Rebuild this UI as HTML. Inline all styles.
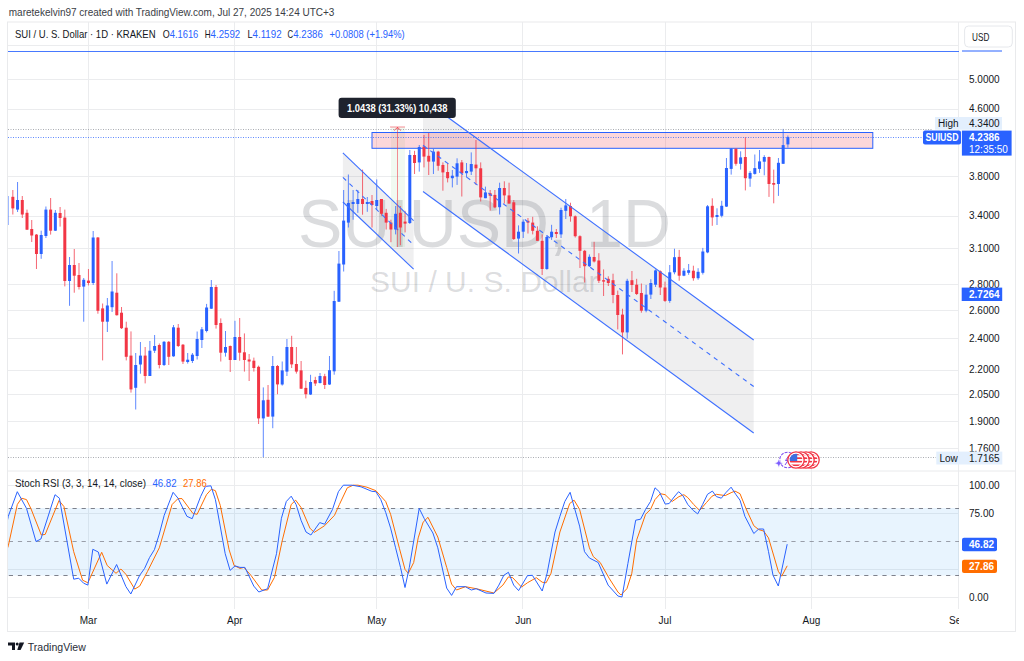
<!DOCTYPE html><html><head><meta charset="utf-8"><style>
html,body{margin:0;padding:0;background:#fff;width:1024px;height:661px;overflow:hidden}
svg{position:absolute;left:0;top:0}
text{font-family:"Liberation Sans",sans-serif}
</style></head><body>
<svg width="1024" height="661" viewBox="0 0 1024 661">
<rect x="0" y="0" width="1024" height="661" fill="#fff"/>
<text x="8.8" y="15.5" font-size="10.4" fill="#3a3d45" textLength="325.6" lengthAdjust="spacingAndGlyphs">maretekelvin97 created with TradingView.com, Jul 27, 2025 14:24 UTC+3</text>
<rect x="7.5" y="22" width="1008" height="609.5" fill="none" stroke="#e9eaec" stroke-width="1"/>
<defs><clipPath id="main"><rect x="8" y="22.5" width="951" height="448"/></clipPath><clipPath id="stoch"><rect x="8" y="471.5" width="951" height="137.5"/></clipPath></defs>
<line x1="8" x2="959" y1="45.5" y2="45.5" stroke="#ebecee" stroke-width="1"/>
<line x1="8" x2="959" y1="79.5" y2="79.5" stroke="#ebecee" stroke-width="1"/>
<line x1="8" x2="959" y1="109.5" y2="109.5" stroke="#ebecee" stroke-width="1"/>
<line x1="8" x2="959" y1="176.5" y2="176.5" stroke="#ebecee" stroke-width="1"/>
<line x1="8" x2="959" y1="216.5" y2="216.5" stroke="#ebecee" stroke-width="1"/>
<line x1="8" x2="959" y1="248.5" y2="248.5" stroke="#ebecee" stroke-width="1"/>
<line x1="8" x2="959" y1="284.5" y2="284.5" stroke="#ebecee" stroke-width="1"/>
<line x1="8" x2="959" y1="310.5" y2="310.5" stroke="#ebecee" stroke-width="1"/>
<line x1="8" x2="959" y1="338.5" y2="338.5" stroke="#ebecee" stroke-width="1"/>
<line x1="8" x2="959" y1="370.5" y2="370.5" stroke="#ebecee" stroke-width="1"/>
<line x1="8" x2="959" y1="394.5" y2="394.5" stroke="#ebecee" stroke-width="1"/>
<line x1="8" x2="959" y1="421.5" y2="421.5" stroke="#ebecee" stroke-width="1"/>
<line x1="8" x2="959" y1="448.5" y2="448.5" stroke="#ebecee" stroke-width="1"/>
<line x1="8" x2="959" y1="485.5" y2="485.5" stroke="#ebecee" stroke-width="1"/>
<line x1="8" x2="959" y1="513.5" y2="513.5" stroke="#ebecee" stroke-width="1"/>
<line x1="8" x2="959" y1="569.5" y2="569.5" stroke="#ebecee" stroke-width="1"/>
<line x1="8" x2="959" y1="597.5" y2="597.5" stroke="#ebecee" stroke-width="1"/>
<line x1="88.5" x2="88.5" y1="22" y2="609" stroke="#ebecee" stroke-width="1"/>
<line x1="234.5" x2="234.5" y1="22" y2="609" stroke="#ebecee" stroke-width="1"/>
<line x1="376.5" x2="376.5" y1="22" y2="609" stroke="#ebecee" stroke-width="1"/>
<line x1="522.5" x2="522.5" y1="22" y2="609" stroke="#ebecee" stroke-width="1"/>
<line x1="665.5" x2="665.5" y1="22" y2="609" stroke="#ebecee" stroke-width="1"/>
<line x1="811.5" x2="811.5" y1="22" y2="609" stroke="#ebecee" stroke-width="1"/>
<line x1="8" x2="1015.5" y1="471" y2="471" stroke="#e9eaec" stroke-width="1"/>
<line x1="958.5" x2="958.5" y1="22" y2="609" stroke="#ebecee" stroke-width="1"/>
<g clip-path="url(#main)">
<text x="484.5" y="247" font-size="68" fill="rgba(42,46,57,0.17)" text-anchor="middle" textLength="373" lengthAdjust="spacingAndGlyphs">SUIUSD, 1D</text>
<text x="484.3" y="291.5" font-size="30" fill="rgba(42,46,57,0.17)" text-anchor="middle" textLength="228.6" lengthAdjust="spacingAndGlyphs">SUI / U. S. Dollar</text>
<polygon points="342.9,152.9 413.6,220.6 413.6,269.2 342.9,202" fill="rgba(120,123,134,0.12)"/>
<polygon points="423,99.2 753.7,340 753.7,433 423,191.5" fill="rgba(120,123,134,0.12)"/>
<rect x="391" y="127" width="14" height="120" fill="rgba(76,175,80,0.08)"/>
<rect x="372" y="132.5" width="500.8" height="15.8" fill="rgba(242,54,69,0.2)" stroke="#2962ff" stroke-width="1"/>
<rect x="7.60" y="196.0" width="1" height="29.0" fill="#2962ff" opacity="0.75"/>
<rect x="12.33" y="190.0" width="1" height="24.5" fill="#f23645" opacity="0.75"/>
<rect x="11.33" y="196.8" width="3" height="11.6" fill="#f23645"/>
<rect x="17.05" y="182.0" width="1" height="30.0" fill="#2962ff" opacity="0.75"/>
<rect x="16.05" y="200.0" width="3" height="9.6" fill="#2962ff"/>
<rect x="21.78" y="196.0" width="1" height="22.0" fill="#f23645" opacity="0.75"/>
<rect x="20.78" y="200.0" width="3" height="14.5" fill="#f23645"/>
<rect x="26.50" y="209.6" width="1" height="20.4" fill="#f23645" opacity="0.75"/>
<rect x="25.50" y="212.8" width="3" height="16.9" fill="#f23645"/>
<rect x="31.23" y="220.0" width="1" height="22.0" fill="#f23645" opacity="0.75"/>
<rect x="30.23" y="229.0" width="3" height="6.5" fill="#f23645"/>
<rect x="35.96" y="234.0" width="1" height="35.0" fill="#f23645" opacity="0.75"/>
<rect x="34.96" y="234.6" width="3" height="19.4" fill="#f23645"/>
<rect x="40.68" y="230.7" width="1" height="28.1" fill="#2962ff" opacity="0.75"/>
<rect x="39.68" y="235.0" width="3" height="19.0" fill="#2962ff"/>
<rect x="45.41" y="206.5" width="1" height="31.5" fill="#2962ff" opacity="0.75"/>
<rect x="44.41" y="209.6" width="3" height="26.4" fill="#2962ff"/>
<rect x="50.13" y="198.0" width="1" height="36.6" fill="#f23645" opacity="0.75"/>
<rect x="49.13" y="209.6" width="3" height="21.1" fill="#f23645"/>
<rect x="54.86" y="210.0" width="1" height="21.0" fill="#2962ff" opacity="0.75"/>
<rect x="53.86" y="212.8" width="3" height="17.9" fill="#2962ff"/>
<rect x="59.59" y="207.0" width="1" height="19.6" fill="#f23645" opacity="0.75"/>
<rect x="58.59" y="213.0" width="3" height="5.0" fill="#f23645"/>
<rect x="64.31" y="209.6" width="1" height="76.8" fill="#f23645" opacity="0.75"/>
<rect x="63.31" y="217.6" width="3" height="63.4" fill="#f23645"/>
<rect x="69.04" y="257.0" width="1" height="48.8" fill="#2962ff" opacity="0.75"/>
<rect x="68.04" y="265.0" width="3" height="16.0" fill="#2962ff"/>
<rect x="73.76" y="249.0" width="1" height="43.7" fill="#f23645" opacity="0.75"/>
<rect x="72.76" y="265.0" width="3" height="10.7" fill="#f23645"/>
<rect x="78.49" y="263.0" width="1" height="26.5" fill="#f23645" opacity="0.75"/>
<rect x="77.49" y="275.0" width="3" height="12.0" fill="#f23645"/>
<rect x="83.22" y="278.0" width="1" height="43.7" fill="#2962ff" opacity="0.75"/>
<rect x="82.22" y="279.8" width="3" height="6.8" fill="#2962ff"/>
<rect x="87.94" y="269.0" width="1" height="16.4" fill="#f23645" opacity="0.75"/>
<rect x="86.94" y="280.6" width="3" height="2.4" fill="#f23645"/>
<rect x="92.67" y="231.0" width="1" height="54.0" fill="#2962ff" opacity="0.75"/>
<rect x="91.67" y="237.5" width="3" height="45.5" fill="#2962ff"/>
<rect x="97.39" y="237.0" width="1" height="76.7" fill="#f23645" opacity="0.75"/>
<rect x="96.39" y="237.5" width="3" height="73.3" fill="#f23645"/>
<rect x="102.12" y="303.5" width="1" height="56.9" fill="#f23645" opacity="0.75"/>
<rect x="101.12" y="308.4" width="3" height="13.3" fill="#f23645"/>
<rect x="106.85" y="298.0" width="1" height="34.0" fill="#2962ff" opacity="0.75"/>
<rect x="105.85" y="305.5" width="3" height="16.2" fill="#2962ff"/>
<rect x="111.57" y="261.0" width="1" height="51.0" fill="#2962ff" opacity="0.75"/>
<rect x="110.57" y="291.5" width="3" height="15.7" fill="#2962ff"/>
<rect x="116.30" y="273.3" width="1" height="42.3" fill="#f23645" opacity="0.75"/>
<rect x="115.30" y="292.7" width="3" height="22.5" fill="#f23645"/>
<rect x="121.02" y="307.0" width="1" height="22.0" fill="#f23645" opacity="0.75"/>
<rect x="120.02" y="312.7" width="3" height="15.5" fill="#f23645"/>
<rect x="125.75" y="321.7" width="1" height="38.7" fill="#f23645" opacity="0.75"/>
<rect x="124.75" y="327.7" width="3" height="29.1" fill="#f23645"/>
<rect x="130.48" y="331.4" width="1" height="61.2" fill="#f23645" opacity="0.75"/>
<rect x="129.48" y="355.6" width="3" height="33.8" fill="#f23645"/>
<rect x="135.20" y="353.0" width="1" height="56.5" fill="#2962ff" opacity="0.75"/>
<rect x="134.20" y="365.0" width="3" height="22.8" fill="#2962ff"/>
<rect x="139.93" y="342.0" width="1" height="31.7" fill="#2962ff" opacity="0.75"/>
<rect x="138.93" y="355.6" width="3" height="8.9" fill="#2962ff"/>
<rect x="144.65" y="347.0" width="1" height="36.4" fill="#f23645" opacity="0.75"/>
<rect x="143.65" y="355.6" width="3" height="20.4" fill="#f23645"/>
<rect x="149.38" y="341.0" width="1" height="35.0" fill="#2962ff" opacity="0.75"/>
<rect x="148.38" y="350.7" width="3" height="25.3" fill="#2962ff"/>
<rect x="154.11" y="335.0" width="1" height="18.0" fill="#2962ff" opacity="0.75"/>
<rect x="153.11" y="346.0" width="3" height="4.7" fill="#2962ff"/>
<rect x="158.83" y="343.5" width="1" height="24.9" fill="#f23645" opacity="0.75"/>
<rect x="157.83" y="345.0" width="3" height="20.0" fill="#f23645"/>
<rect x="163.56" y="341.0" width="1" height="25.0" fill="#2962ff" opacity="0.75"/>
<rect x="162.56" y="341.8" width="3" height="23.2" fill="#2962ff"/>
<rect x="168.28" y="341.0" width="1" height="24.0" fill="#f23645" opacity="0.75"/>
<rect x="167.28" y="341.8" width="3" height="15.0" fill="#f23645"/>
<rect x="173.01" y="325.0" width="1" height="31.8" fill="#2962ff" opacity="0.75"/>
<rect x="172.01" y="327.3" width="3" height="29.0" fill="#2962ff"/>
<rect x="177.74" y="324.0" width="1" height="23.0" fill="#f23645" opacity="0.75"/>
<rect x="176.74" y="327.7" width="3" height="18.3" fill="#f23645"/>
<rect x="182.46" y="344.0" width="1" height="20.0" fill="#f23645" opacity="0.75"/>
<rect x="181.46" y="344.7" width="3" height="16.9" fill="#f23645"/>
<rect x="187.19" y="353.0" width="1" height="10.6" fill="#2962ff" opacity="0.75"/>
<rect x="186.19" y="359.7" width="3" height="2.3" fill="#2962ff"/>
<rect x="191.91" y="353.0" width="1" height="10.0" fill="#2962ff" opacity="0.75"/>
<rect x="190.91" y="354.7" width="3" height="6.3" fill="#2962ff"/>
<rect x="196.64" y="331.5" width="1" height="28.0" fill="#2962ff" opacity="0.75"/>
<rect x="195.64" y="339.0" width="3" height="17.0" fill="#2962ff"/>
<rect x="201.37" y="327.0" width="1" height="21.0" fill="#2962ff" opacity="0.75"/>
<rect x="200.37" y="329.3" width="3" height="10.7" fill="#2962ff"/>
<rect x="206.09" y="303.9" width="1" height="28.5" fill="#2962ff" opacity="0.75"/>
<rect x="205.09" y="307.5" width="3" height="23.5" fill="#2962ff"/>
<rect x="210.82" y="280.0" width="1" height="29.0" fill="#2962ff" opacity="0.75"/>
<rect x="209.82" y="287.0" width="3" height="21.7" fill="#2962ff"/>
<rect x="215.54" y="285.0" width="1" height="43.6" fill="#f23645" opacity="0.75"/>
<rect x="214.54" y="287.0" width="3" height="38.0" fill="#f23645"/>
<rect x="220.27" y="318.4" width="1" height="43.1" fill="#f23645" opacity="0.75"/>
<rect x="219.27" y="323.0" width="3" height="29.7" fill="#f23645"/>
<rect x="225.00" y="331.0" width="1" height="25.6" fill="#2962ff" opacity="0.75"/>
<rect x="224.00" y="347.0" width="3" height="5.7" fill="#2962ff"/>
<rect x="229.72" y="345.5" width="1" height="26.5" fill="#f23645" opacity="0.75"/>
<rect x="228.72" y="346.0" width="3" height="14.0" fill="#f23645"/>
<rect x="234.45" y="320.8" width="1" height="39.2" fill="#2962ff" opacity="0.75"/>
<rect x="233.45" y="337.0" width="3" height="23.0" fill="#2962ff"/>
<rect x="239.17" y="318.0" width="1" height="42.7" fill="#f23645" opacity="0.75"/>
<rect x="238.17" y="337.0" width="3" height="15.7" fill="#f23645"/>
<rect x="243.90" y="333.4" width="1" height="38.2" fill="#f23645" opacity="0.75"/>
<rect x="242.90" y="352.3" width="3" height="7.7" fill="#f23645"/>
<rect x="248.63" y="354.0" width="1" height="27.0" fill="#f23645" opacity="0.75"/>
<rect x="247.63" y="359.5" width="3" height="2.0" fill="#f23645"/>
<rect x="253.35" y="357.6" width="1" height="14.0" fill="#f23645" opacity="0.75"/>
<rect x="252.35" y="360.7" width="3" height="7.3" fill="#f23645"/>
<rect x="258.08" y="365.6" width="1" height="58.4" fill="#f23645" opacity="0.75"/>
<rect x="257.08" y="366.8" width="3" height="51.6" fill="#f23645"/>
<rect x="262.80" y="387.4" width="1" height="70.0" fill="#2962ff" opacity="0.75"/>
<rect x="261.80" y="400.3" width="3" height="18.1" fill="#2962ff"/>
<rect x="267.53" y="385.0" width="1" height="32.0" fill="#f23645" opacity="0.75"/>
<rect x="266.53" y="399.8" width="3" height="16.8" fill="#f23645"/>
<rect x="272.26" y="356.0" width="1" height="72.2" fill="#2962ff" opacity="0.75"/>
<rect x="271.26" y="366.0" width="3" height="50.6" fill="#2962ff"/>
<rect x="276.98" y="365.0" width="1" height="29.2" fill="#f23645" opacity="0.75"/>
<rect x="275.98" y="366.0" width="3" height="18.4" fill="#f23645"/>
<rect x="281.71" y="361.5" width="1" height="24.1" fill="#2962ff" opacity="0.75"/>
<rect x="280.71" y="370.4" width="3" height="14.1" fill="#2962ff"/>
<rect x="286.43" y="339.0" width="1" height="37.0" fill="#2962ff" opacity="0.75"/>
<rect x="285.43" y="347.0" width="3" height="24.6" fill="#2962ff"/>
<rect x="291.16" y="335.8" width="1" height="32.2" fill="#f23645" opacity="0.75"/>
<rect x="290.16" y="347.0" width="3" height="17.4" fill="#f23645"/>
<rect x="295.89" y="347.0" width="1" height="26.6" fill="#f23645" opacity="0.75"/>
<rect x="294.89" y="364.0" width="3" height="7.6" fill="#f23645"/>
<rect x="300.61" y="361.0" width="1" height="28.0" fill="#f23645" opacity="0.75"/>
<rect x="299.61" y="370.4" width="3" height="18.3" fill="#f23645"/>
<rect x="305.34" y="380.6" width="1" height="17.8" fill="#f23645" opacity="0.75"/>
<rect x="304.34" y="387.9" width="3" height="6.3" fill="#f23645"/>
<rect x="310.06" y="374.8" width="1" height="20.2" fill="#2962ff" opacity="0.75"/>
<rect x="309.06" y="382.0" width="3" height="12.5" fill="#2962ff"/>
<rect x="314.79" y="376.8" width="1" height="9.1" fill="#f23645" opacity="0.75"/>
<rect x="313.79" y="380.0" width="3" height="3.5" fill="#f23645"/>
<rect x="319.52" y="373.0" width="1" height="10.5" fill="#2962ff" opacity="0.75"/>
<rect x="318.52" y="376.0" width="3" height="7.0" fill="#2962ff"/>
<rect x="324.24" y="373.8" width="1" height="15.2" fill="#f23645" opacity="0.75"/>
<rect x="323.24" y="376.2" width="3" height="8.8" fill="#f23645"/>
<rect x="328.97" y="356.0" width="1" height="29.0" fill="#2962ff" opacity="0.75"/>
<rect x="327.97" y="370.2" width="3" height="14.3" fill="#2962ff"/>
<rect x="333.69" y="290.8" width="1" height="83.9" fill="#2962ff" opacity="0.75"/>
<rect x="332.69" y="301.0" width="3" height="70.3" fill="#2962ff"/>
<rect x="338.42" y="251.0" width="1" height="51.0" fill="#2962ff" opacity="0.75"/>
<rect x="337.42" y="263.6" width="3" height="38.1" fill="#2962ff"/>
<rect x="343.15" y="190.0" width="1" height="81.5" fill="#2962ff" opacity="0.75"/>
<rect x="342.15" y="220.6" width="3" height="43.9" fill="#2962ff"/>
<rect x="347.87" y="174.5" width="1" height="53.0" fill="#2962ff" opacity="0.75"/>
<rect x="346.87" y="203.0" width="3" height="19.6" fill="#2962ff"/>
<rect x="352.60" y="190.0" width="1" height="29.7" fill="#2962ff" opacity="0.75"/>
<rect x="351.60" y="202.0" width="3" height="2.0" fill="#2962ff"/>
<rect x="357.32" y="190.0" width="1" height="22.8" fill="#2962ff" opacity="0.75"/>
<rect x="356.32" y="199.0" width="3" height="5.0" fill="#2962ff"/>
<rect x="362.05" y="169.6" width="1" height="45.1" fill="#f23645" opacity="0.75"/>
<rect x="361.05" y="199.0" width="3" height="5.0" fill="#f23645"/>
<rect x="366.78" y="197.0" width="1" height="14.8" fill="#2962ff" opacity="0.75"/>
<rect x="365.78" y="202.0" width="3" height="2.0" fill="#2962ff"/>
<rect x="371.50" y="195.0" width="1" height="32.5" fill="#f23645" opacity="0.75"/>
<rect x="370.50" y="201.0" width="3" height="4.0" fill="#f23645"/>
<rect x="376.23" y="179.4" width="1" height="30.4" fill="#2962ff" opacity="0.75"/>
<rect x="375.23" y="200.0" width="3" height="6.0" fill="#2962ff"/>
<rect x="380.95" y="199.0" width="1" height="16.7" fill="#f23645" opacity="0.75"/>
<rect x="379.95" y="199.0" width="3" height="14.8" fill="#f23645"/>
<rect x="385.68" y="208.9" width="1" height="20.6" fill="#f23645" opacity="0.75"/>
<rect x="384.68" y="212.8" width="3" height="9.8" fill="#f23645"/>
<rect x="390.41" y="219.7" width="1" height="22.5" fill="#f23645" opacity="0.75"/>
<rect x="389.41" y="222.6" width="3" height="6.9" fill="#f23645"/>
<rect x="395.13" y="206.0" width="1" height="28.4" fill="#2962ff" opacity="0.75"/>
<rect x="394.13" y="213.8" width="3" height="15.7" fill="#2962ff"/>
<rect x="399.86" y="206.0" width="1" height="39.2" fill="#f23645" opacity="0.75"/>
<rect x="398.86" y="212.8" width="3" height="14.7" fill="#f23645"/>
<rect x="404.58" y="210.8" width="1" height="21.6" fill="#f23645" opacity="0.75"/>
<rect x="403.58" y="221.6" width="3" height="2.0" fill="#f23645"/>
<rect x="409.31" y="150.0" width="1" height="74.0" fill="#2962ff" opacity="0.75"/>
<rect x="408.31" y="155.0" width="3" height="68.0" fill="#2962ff"/>
<rect x="414.04" y="150.8" width="1" height="23.2" fill="#f23645" opacity="0.75"/>
<rect x="413.04" y="155.0" width="3" height="8.0" fill="#f23645"/>
<rect x="418.76" y="145.0" width="1" height="26.6" fill="#2962ff" opacity="0.75"/>
<rect x="417.76" y="147.0" width="3" height="15.4" fill="#2962ff"/>
<rect x="423.49" y="135.0" width="1" height="32.4" fill="#f23645" opacity="0.75"/>
<rect x="422.49" y="146.6" width="3" height="10.0" fill="#f23645"/>
<rect x="428.21" y="133.0" width="1" height="42.0" fill="#f23645" opacity="0.75"/>
<rect x="427.21" y="155.8" width="3" height="5.8" fill="#f23645"/>
<rect x="432.94" y="149.0" width="1" height="25.0" fill="#2962ff" opacity="0.75"/>
<rect x="431.94" y="151.6" width="3" height="10.0" fill="#2962ff"/>
<rect x="437.67" y="150.8" width="1" height="19.9" fill="#f23645" opacity="0.75"/>
<rect x="436.67" y="151.6" width="3" height="14.2" fill="#f23645"/>
<rect x="442.39" y="162.4" width="1" height="28.3" fill="#f23645" opacity="0.75"/>
<rect x="441.39" y="165.0" width="3" height="7.4" fill="#f23645"/>
<rect x="447.12" y="163.0" width="1" height="19.4" fill="#f23645" opacity="0.75"/>
<rect x="446.12" y="172.0" width="3" height="6.2" fill="#f23645"/>
<rect x="451.84" y="170.0" width="1" height="17.4" fill="#2962ff" opacity="0.75"/>
<rect x="450.84" y="175.7" width="3" height="2.5" fill="#2962ff"/>
<rect x="456.57" y="158.3" width="1" height="26.6" fill="#2962ff" opacity="0.75"/>
<rect x="455.57" y="163.3" width="3" height="13.3" fill="#2962ff"/>
<rect x="461.30" y="160.0" width="1" height="36.5" fill="#f23645" opacity="0.75"/>
<rect x="460.30" y="162.4" width="3" height="10.8" fill="#f23645"/>
<rect x="466.02" y="163.0" width="1" height="14.4" fill="#2962ff" opacity="0.75"/>
<rect x="465.02" y="171.0" width="3" height="2.2" fill="#2962ff"/>
<rect x="470.75" y="152.4" width="1" height="22.6" fill="#2962ff" opacity="0.75"/>
<rect x="469.75" y="164.0" width="3" height="7.6" fill="#2962ff"/>
<rect x="475.47" y="140.0" width="1" height="45.0" fill="#f23645" opacity="0.75"/>
<rect x="474.47" y="164.6" width="3" height="3.7" fill="#f23645"/>
<rect x="480.20" y="162.4" width="1" height="39.1" fill="#f23645" opacity="0.75"/>
<rect x="479.20" y="168.3" width="3" height="29.1" fill="#f23645"/>
<rect x="484.93" y="186.6" width="1" height="11.6" fill="#2962ff" opacity="0.75"/>
<rect x="483.93" y="192.4" width="3" height="5.8" fill="#2962ff"/>
<rect x="489.65" y="190.0" width="1" height="20.7" fill="#f23645" opacity="0.75"/>
<rect x="488.65" y="193.2" width="3" height="2.5" fill="#f23645"/>
<rect x="494.38" y="190.0" width="1" height="18.2" fill="#f23645" opacity="0.75"/>
<rect x="493.38" y="194.9" width="3" height="12.5" fill="#f23645"/>
<rect x="499.10" y="182.7" width="1" height="31.8" fill="#2962ff" opacity="0.75"/>
<rect x="498.10" y="188.0" width="3" height="19.2" fill="#2962ff"/>
<rect x="503.83" y="181.3" width="1" height="22.3" fill="#f23645" opacity="0.75"/>
<rect x="502.83" y="188.0" width="3" height="7.4" fill="#f23645"/>
<rect x="508.56" y="182.7" width="1" height="20.9" fill="#f23645" opacity="0.75"/>
<rect x="507.56" y="195.4" width="3" height="8.2" fill="#f23645"/>
<rect x="513.28" y="200.0" width="1" height="40.0" fill="#f23645" opacity="0.75"/>
<rect x="512.28" y="202.3" width="3" height="36.7" fill="#f23645"/>
<rect x="518.01" y="225.4" width="1" height="28.1" fill="#2962ff" opacity="0.75"/>
<rect x="517.01" y="231.7" width="3" height="6.9" fill="#2962ff"/>
<rect x="522.73" y="219.4" width="1" height="18.6" fill="#2962ff" opacity="0.75"/>
<rect x="521.73" y="221.7" width="3" height="10.0" fill="#2962ff"/>
<rect x="527.46" y="218.0" width="1" height="15.5" fill="#f23645" opacity="0.75"/>
<rect x="526.46" y="220.8" width="3" height="1.8" fill="#f23645"/>
<rect x="532.19" y="216.8" width="1" height="17.6" fill="#f23645" opacity="0.75"/>
<rect x="531.19" y="222.6" width="3" height="8.2" fill="#f23645"/>
<rect x="536.91" y="226.3" width="1" height="14.5" fill="#f23645" opacity="0.75"/>
<rect x="535.91" y="230.8" width="3" height="10.0" fill="#f23645"/>
<rect x="541.64" y="234.4" width="1" height="40.6" fill="#f23645" opacity="0.75"/>
<rect x="540.64" y="240.8" width="3" height="28.2" fill="#f23645"/>
<rect x="546.36" y="235.3" width="1" height="34.5" fill="#2962ff" opacity="0.75"/>
<rect x="545.36" y="237.0" width="3" height="32.0" fill="#2962ff"/>
<rect x="551.09" y="224.8" width="1" height="15.1" fill="#2962ff" opacity="0.75"/>
<rect x="550.09" y="231.7" width="3" height="5.5" fill="#2962ff"/>
<rect x="555.82" y="229.0" width="1" height="9.0" fill="#f23645" opacity="0.75"/>
<rect x="554.82" y="232.0" width="3" height="2.0" fill="#f23645"/>
<rect x="560.54" y="207.7" width="1" height="30.3" fill="#2962ff" opacity="0.75"/>
<rect x="559.54" y="210.0" width="3" height="24.4" fill="#2962ff"/>
<rect x="565.27" y="199.0" width="1" height="20.0" fill="#2962ff" opacity="0.75"/>
<rect x="564.27" y="205.4" width="3" height="5.4" fill="#2962ff"/>
<rect x="569.99" y="202.7" width="1" height="19.0" fill="#f23645" opacity="0.75"/>
<rect x="568.99" y="206.0" width="3" height="10.3" fill="#f23645"/>
<rect x="574.72" y="215.4" width="1" height="22.1" fill="#f23645" opacity="0.75"/>
<rect x="573.72" y="216.3" width="3" height="19.9" fill="#f23645"/>
<rect x="579.45" y="235.3" width="1" height="32.7" fill="#f23645" opacity="0.75"/>
<rect x="578.45" y="236.2" width="3" height="14.6" fill="#f23645"/>
<rect x="584.17" y="249.9" width="1" height="32.6" fill="#f23645" opacity="0.75"/>
<rect x="583.17" y="250.8" width="3" height="15.4" fill="#f23645"/>
<rect x="588.90" y="254.4" width="1" height="12.6" fill="#2962ff" opacity="0.75"/>
<rect x="587.90" y="256.8" width="3" height="9.4" fill="#2962ff"/>
<rect x="593.62" y="241.8" width="1" height="20.7" fill="#f23645" opacity="0.75"/>
<rect x="592.62" y="257.0" width="3" height="4.5" fill="#f23645"/>
<rect x="598.35" y="253.2" width="1" height="29.8" fill="#f23645" opacity="0.75"/>
<rect x="597.35" y="260.5" width="3" height="20.3" fill="#f23645"/>
<rect x="603.08" y="269.4" width="1" height="26.6" fill="#f23645" opacity="0.75"/>
<rect x="602.08" y="280.2" width="3" height="1.4" fill="#f23645"/>
<rect x="607.80" y="276.3" width="1" height="9.7" fill="#f23645" opacity="0.75"/>
<rect x="606.80" y="278.8" width="3" height="4.2" fill="#f23645"/>
<rect x="612.53" y="273.7" width="1" height="29.5" fill="#f23645" opacity="0.75"/>
<rect x="611.53" y="280.2" width="3" height="14.8" fill="#f23645"/>
<rect x="617.25" y="290.6" width="1" height="38.8" fill="#f23645" opacity="0.75"/>
<rect x="616.25" y="295.0" width="3" height="20.0" fill="#f23645"/>
<rect x="621.98" y="308.7" width="1" height="45.7" fill="#f23645" opacity="0.75"/>
<rect x="620.98" y="314.6" width="3" height="17.8" fill="#f23645"/>
<rect x="626.71" y="278.8" width="1" height="59.9" fill="#2962ff" opacity="0.75"/>
<rect x="625.71" y="280.8" width="3" height="51.6" fill="#2962ff"/>
<rect x="631.43" y="271.0" width="1" height="21.0" fill="#f23645" opacity="0.75"/>
<rect x="630.43" y="280.2" width="3" height="4.8" fill="#f23645"/>
<rect x="636.16" y="278.8" width="1" height="16.2" fill="#f23645" opacity="0.75"/>
<rect x="635.16" y="284.7" width="3" height="9.3" fill="#f23645"/>
<rect x="640.88" y="283.5" width="1" height="29.2" fill="#f23645" opacity="0.75"/>
<rect x="639.88" y="293.0" width="3" height="17.7" fill="#f23645"/>
<rect x="645.61" y="285.0" width="1" height="27.3" fill="#2962ff" opacity="0.75"/>
<rect x="644.61" y="294.6" width="3" height="16.1" fill="#2962ff"/>
<rect x="650.34" y="279.2" width="1" height="19.8" fill="#2962ff" opacity="0.75"/>
<rect x="649.34" y="283.0" width="3" height="11.6" fill="#2962ff"/>
<rect x="655.06" y="269.4" width="1" height="17.6" fill="#2962ff" opacity="0.75"/>
<rect x="654.06" y="270.4" width="3" height="14.3" fill="#2962ff"/>
<rect x="659.79" y="270.4" width="1" height="24.6" fill="#f23645" opacity="0.75"/>
<rect x="658.79" y="271.3" width="3" height="16.2" fill="#f23645"/>
<rect x="664.51" y="281.6" width="1" height="20.3" fill="#f23645" opacity="0.75"/>
<rect x="663.51" y="287.5" width="3" height="13.4" fill="#f23645"/>
<rect x="669.24" y="265.0" width="1" height="37.8" fill="#2962ff" opacity="0.75"/>
<rect x="668.24" y="272.3" width="3" height="28.6" fill="#2962ff"/>
<rect x="673.97" y="248.7" width="1" height="25.6" fill="#2962ff" opacity="0.75"/>
<rect x="672.97" y="257.2" width="3" height="15.1" fill="#2962ff"/>
<rect x="678.69" y="249.9" width="1" height="30.8" fill="#f23645" opacity="0.75"/>
<rect x="677.69" y="256.9" width="3" height="18.8" fill="#f23645"/>
<rect x="683.42" y="268.2" width="1" height="8.0" fill="#2962ff" opacity="0.75"/>
<rect x="682.42" y="270.7" width="3" height="5.0" fill="#2962ff"/>
<rect x="688.14" y="264.0" width="1" height="10.8" fill="#2962ff" opacity="0.75"/>
<rect x="687.14" y="270.2" width="3" height="2.6" fill="#2962ff"/>
<rect x="692.87" y="265.7" width="1" height="15.0" fill="#f23645" opacity="0.75"/>
<rect x="691.87" y="270.7" width="3" height="7.5" fill="#f23645"/>
<rect x="697.60" y="268.2" width="1" height="11.6" fill="#2962ff" opacity="0.75"/>
<rect x="696.60" y="271.8" width="3" height="6.4" fill="#2962ff"/>
<rect x="702.32" y="247.9" width="1" height="26.6" fill="#2962ff" opacity="0.75"/>
<rect x="701.32" y="251.5" width="3" height="21.3" fill="#2962ff"/>
<rect x="707.05" y="205.0" width="1" height="48.2" fill="#2962ff" opacity="0.75"/>
<rect x="706.05" y="206.3" width="3" height="46.1" fill="#2962ff"/>
<rect x="711.77" y="198.3" width="1" height="27.5" fill="#f23645" opacity="0.75"/>
<rect x="710.77" y="205.8" width="3" height="11.6" fill="#f23645"/>
<rect x="716.50" y="208.3" width="1" height="16.7" fill="#2962ff" opacity="0.75"/>
<rect x="715.50" y="215.0" width="3" height="2.0" fill="#2962ff"/>
<rect x="721.23" y="200.8" width="1" height="16.6" fill="#2962ff" opacity="0.75"/>
<rect x="720.23" y="205.8" width="3" height="10.0" fill="#2962ff"/>
<rect x="725.95" y="158.0" width="1" height="49.0" fill="#2962ff" opacity="0.75"/>
<rect x="724.95" y="168.0" width="3" height="38.6" fill="#2962ff"/>
<rect x="730.68" y="148.0" width="1" height="26.6" fill="#2962ff" opacity="0.75"/>
<rect x="729.68" y="148.7" width="3" height="20.2" fill="#2962ff"/>
<rect x="735.40" y="148.7" width="1" height="17.0" fill="#f23645" opacity="0.75"/>
<rect x="734.40" y="148.7" width="3" height="15.1" fill="#f23645"/>
<rect x="740.13" y="151.3" width="1" height="18.3" fill="#2962ff" opacity="0.75"/>
<rect x="739.13" y="157.4" width="3" height="6.4" fill="#2962ff"/>
<rect x="744.86" y="137.2" width="1" height="53.2" fill="#f23645" opacity="0.75"/>
<rect x="743.86" y="157.0" width="3" height="21.2" fill="#f23645"/>
<rect x="749.58" y="171.0" width="1" height="15.8" fill="#2962ff" opacity="0.75"/>
<rect x="748.58" y="172.9" width="3" height="5.7" fill="#2962ff"/>
<rect x="754.31" y="154.5" width="1" height="20.1" fill="#2962ff" opacity="0.75"/>
<rect x="753.31" y="168.1" width="3" height="5.8" fill="#2962ff"/>
<rect x="759.03" y="150.0" width="1" height="22.9" fill="#2962ff" opacity="0.75"/>
<rect x="758.03" y="161.4" width="3" height="7.5" fill="#2962ff"/>
<rect x="763.76" y="155.2" width="1" height="20.1" fill="#2962ff" opacity="0.75"/>
<rect x="762.76" y="157.0" width="3" height="4.7" fill="#2962ff"/>
<rect x="768.49" y="156.6" width="1" height="40.3" fill="#f23645" opacity="0.75"/>
<rect x="767.49" y="157.0" width="3" height="27.0" fill="#f23645"/>
<rect x="773.21" y="169.6" width="1" height="33.7" fill="#f23645" opacity="0.75"/>
<rect x="772.21" y="183.0" width="3" height="1.7" fill="#f23645"/>
<rect x="777.94" y="158.0" width="1" height="37.9" fill="#2962ff" opacity="0.75"/>
<rect x="776.94" y="162.8" width="3" height="21.2" fill="#2962ff"/>
<rect x="782.66" y="128.9" width="1" height="34.9" fill="#2962ff" opacity="0.75"/>
<rect x="781.66" y="145.1" width="3" height="18.7" fill="#2962ff"/>
<rect x="787.39" y="135.5" width="1" height="12.1" fill="#2962ff" opacity="0.75"/>
<rect x="786.39" y="137.2" width="3" height="7.2" fill="#2962ff"/>
<g stroke="#3d6fff" stroke-width="1.1" fill="none">
<line x1="342.9" y1="152.9" x2="413.6" y2="220.6"/>
<line x1="342.9" y1="202" x2="413.6" y2="269.2"/>
<line x1="342.9" y1="177.4" x2="413.6" y2="244.9" stroke-dasharray="4.5 4.5"/>
<line x1="423" y1="99.2" x2="753.7" y2="340"/>
<line x1="423" y1="191.5" x2="753.7" y2="433"/>
<line x1="423" y1="145.3" x2="753.7" y2="386.5" stroke-dasharray="4.5 4.5"/>
</g>
<line x1="397.5" y1="127" x2="397.5" y2="247" stroke="#f23645" stroke-width="1" opacity="0.55"/>
<line x1="390" y1="127" x2="405" y2="127" stroke="#f23645" stroke-width="1" opacity="0.55"/>
<polyline points="394,130.5 397.5,127.5 401,130.5" stroke="#f23645" stroke-width="1" fill="none" opacity="0.8"/>
<line x1="8" x2="959" y1="51.5" y2="51.5" stroke="#2962ff" stroke-width="1" opacity="0.85"/>
<line x1="8" x2="933" y1="129.5" y2="129.5" stroke="#9598a1" stroke-width="1" stroke-dasharray="1 1.5" opacity="0.8"/>
<line x1="8" x2="923" y1="137.5" y2="137.5" stroke="#2962ff" stroke-width="1" stroke-dasharray="1 1.5" opacity="0.75"/>
<line x1="8" x2="936" y1="457.5" y2="457.5" stroke="#9598a1" stroke-width="1" stroke-dasharray="1 1.5" opacity="0.8"/>
<circle cx="787.5" cy="460" r="7.8" fill="#fff" stroke="#7e4cf0" stroke-width="1.1" stroke-dasharray="3 1.2"/>
<path d="M789,455.5 L785.5,460.5 L788,460.5 L785,465" stroke="#7e4cf0" stroke-width="1" fill="none"/>
<path d="M778.8,458.8 L780,462 L783.2,463.2 L780,464.4 L778.8,467.6 L777.6,464.4 L774.4,463.2 L777.6,462Z" fill="#7b5cff" stroke="#fff" stroke-width="0.6"/>
<circle cx="811" cy="460" r="8.2" fill="#fff" stroke="#f23645" stroke-width="1.3"/>
<clipPath id="fl811"><circle cx="811" cy="460" r="6.3"/></clipPath>
<g clip-path="url(#fl811)">
<rect x="804" y="453.7" width="14" height="1.8" fill="#f23645"/>
<rect x="804" y="455.5" width="14" height="1.8" fill="#fff"/>
<rect x="804" y="457.3" width="14" height="1.8" fill="#f23645"/>
<rect x="804" y="459.1" width="14" height="1.8" fill="#fff"/>
<rect x="804" y="460.9" width="14" height="1.8" fill="#f23645"/>
<rect x="804" y="462.7" width="14" height="1.8" fill="#fff"/>
<rect x="804" y="464.5" width="14" height="1.8" fill="#f23645"/>
<rect x="804" y="453" width="8.2" height="8" fill="#3c6fe0"/>
</g>
<circle cx="806" cy="460" r="8.2" fill="#fff" stroke="#f23645" stroke-width="1.3"/>
<clipPath id="fl806"><circle cx="806" cy="460" r="6.3"/></clipPath>
<g clip-path="url(#fl806)">
<rect x="799" y="453.7" width="14" height="1.8" fill="#f23645"/>
<rect x="799" y="455.5" width="14" height="1.8" fill="#fff"/>
<rect x="799" y="457.3" width="14" height="1.8" fill="#f23645"/>
<rect x="799" y="459.1" width="14" height="1.8" fill="#fff"/>
<rect x="799" y="460.9" width="14" height="1.8" fill="#f23645"/>
<rect x="799" y="462.7" width="14" height="1.8" fill="#fff"/>
<rect x="799" y="464.5" width="14" height="1.8" fill="#f23645"/>
<rect x="799" y="453" width="8.2" height="8" fill="#3c6fe0"/>
</g>
<circle cx="801" cy="460" r="8.2" fill="#fff" stroke="#f23645" stroke-width="1.3"/>
<clipPath id="fl801"><circle cx="801" cy="460" r="6.3"/></clipPath>
<g clip-path="url(#fl801)">
<rect x="794" y="453.7" width="14" height="1.8" fill="#f23645"/>
<rect x="794" y="455.5" width="14" height="1.8" fill="#fff"/>
<rect x="794" y="457.3" width="14" height="1.8" fill="#f23645"/>
<rect x="794" y="459.1" width="14" height="1.8" fill="#fff"/>
<rect x="794" y="460.9" width="14" height="1.8" fill="#f23645"/>
<rect x="794" y="462.7" width="14" height="1.8" fill="#fff"/>
<rect x="794" y="464.5" width="14" height="1.8" fill="#f23645"/>
<rect x="794" y="453" width="8.2" height="8" fill="#3c6fe0"/>
</g>
<circle cx="796" cy="460" r="8.2" fill="#fff" stroke="#f23645" stroke-width="1.3"/>
<clipPath id="fl796"><circle cx="796" cy="460" r="6.3"/></clipPath>
<g clip-path="url(#fl796)">
<rect x="789" y="453.7" width="14" height="1.8" fill="#f23645"/>
<rect x="789" y="455.5" width="14" height="1.8" fill="#fff"/>
<rect x="789" y="457.3" width="14" height="1.8" fill="#f23645"/>
<rect x="789" y="459.1" width="14" height="1.8" fill="#fff"/>
<rect x="789" y="460.9" width="14" height="1.8" fill="#f23645"/>
<rect x="789" y="462.7" width="14" height="1.8" fill="#fff"/>
<rect x="789" y="464.5" width="14" height="1.8" fill="#f23645"/>
<rect x="789" y="453" width="8.2" height="8" fill="#3c6fe0"/>
</g>
</g>
<rect x="338.6" y="97.8" width="117.2" height="20.2" rx="3" fill="#1e222d"/>
<text x="347" y="111.6" font-size="10.5" fill="#fff" font-weight="bold" textLength="100.5" lengthAdjust="spacingAndGlyphs">1.0438 (31.33%) 10,438</text>
<g clip-path="url(#stoch)">
<rect x="8" y="508" width="951" height="67.5" fill="rgba(33,150,243,0.1)"/>
<line x1="8.8" x2="959" y1="508.5" y2="508.5" stroke="#787b86" stroke-width="1" stroke-dasharray="4.2 4.9" opacity="0.95"/>
<line x1="8.8" x2="959" y1="541.5" y2="541.5" stroke="#787b86" stroke-width="1" stroke-dasharray="4.2 4.9" opacity="0.7"/>
<line x1="8.8" x2="959" y1="575.5" y2="575.5" stroke="#787b86" stroke-width="1" stroke-dasharray="4.2 4.9" opacity="0.95"/>
<polyline points="7.5,548.0 8.3,545.8 17.3,504.5 21.6,498.2 26.5,499.6 31.0,508.8 41.3,535.0 45.2,534.4 59.0,500.6 63.9,506.5 73.7,551.7 82.6,580.2 87.9,582.8 101.7,552.3 107.2,565.5 116.0,573.3 120.9,569.0 125.9,574.3 134.7,589.1 139.7,586.1 147.5,571.4 159.3,547.8 172.1,504.5 178.0,498.6 182.0,498.6 192.8,513.3 197.1,514.3 206.5,494.7 211.4,489.2 215.4,490.7 220.3,505.5 229.1,549.7 234.1,565.5 240.0,568.4 243.9,567.4 250.9,575.3 261.7,590.0 267.6,590.0 274.5,577.3 282.4,539.9 291.2,504.5 295.7,500.2 301.0,507.4 309.9,528.1 314.2,532.4 324.6,525.7 334.5,515.3 339.4,504.5 347.3,487.8 353.2,485.2 358.0,485.2 366.9,487.2 375.9,490.7 385.7,501.5 390.6,514.3 399.5,548.7 405.0,569.4 408.3,573.3 413.7,562.5 418.2,537.9 423.1,522.2 428.0,517.3 437.8,537.0 446.7,567.4 451.6,584.1 456.5,590.0 465.4,586.7 476.2,588.7 493.9,593.0 502.9,585.1 508.4,576.9 512.7,577.7 521.5,587.1 527.4,582.8 536.3,577.7 542.2,582.2 546.1,582.8 551.0,573.3 559.9,532.0 569.7,503.5 574.1,500.2 579.6,509.4 589.4,547.8 593.3,556.6 600.2,562.5 609.1,578.2 617.9,592.0 620.9,595.0 626.9,588.7 631.8,573.3 636.7,539.9 645.6,514.3 650.5,509.4 655.0,499.6 660.3,493.7 665.2,494.7 672.1,501.5 679.0,496.6 683.9,494.7 687.8,497.6 693.7,504.5 699.6,510.4 706.5,502.5 712.0,496.2 716.4,494.3 725.2,495.6 731.1,492.7 735.0,491.1 740.0,493.7 745.9,508.4 753.8,525.7 758.7,529.6 763.6,531.0 768.5,537.9 778.3,571.3 781.7,576.2 787.2,565.8" fill="none" stroke="#ff6d00" stroke-width="1" stroke-linejoin="round"/>
<polyline points="7.5,520.0 8.3,516.3 17.3,491.7 26.5,508.4 36.0,541.5 40.9,539.0 55.0,494.7 59.4,498.2 73.7,579.2 78.7,578.2 83.6,583.2 87.9,585.1 92.8,549.3 98.3,552.0 106.8,584.1 116.6,564.5 125.9,586.6 130.8,594.0 139.7,575.3 144.6,568.4 149.5,557.6 154.4,549.7 159.3,534.0 164.2,515.3 173.1,492.3 178.0,498.2 186.9,516.3 192.2,518.7 200.6,496.6 205.5,486.4 210.9,485.8 215.4,499.6 225.2,553.7 230.1,570.4 235.0,565.9 240.0,567.4 244.9,567.4 253.8,586.1 258.8,592.0 267.6,588.7 276.5,553.7 281.4,518.3 286.3,501.5 291.2,496.2 296.1,504.5 301.0,520.2 306.0,532.0 310.9,535.0 319.7,522.6 324.6,524.2 332.5,509.4 338.4,491.7 343.3,485.2 352.2,485.2 361.0,486.8 371.8,491.3 375.9,491.7 380.8,499.6 385.7,512.4 390.6,528.1 395.6,547.8 400.5,567.4 405.0,587.5 409.3,567.4 419.2,508.4 424.1,518.3 432.9,533.0 437.8,547.8 446.7,588.1 451.6,595.4 456.5,586.7 465.4,586.7 471.3,590.0 476.2,588.7 486.0,593.0 493.9,593.4 498.9,585.1 503.8,575.3 508.4,572.3 513.7,585.1 518.6,590.6 527.4,575.7 532.4,575.3 542.2,591.0 547.1,573.3 555.0,532.0 559.9,516.3 564.8,501.5 570.1,492.3 574.6,508.4 579.6,526.1 584.5,551.7 589.4,558.0 598.2,562.5 608.1,585.1 617.9,596.0 622.0,597.0 627.9,563.5 635.7,520.2 640.6,519.2 645.6,509.4 650.5,501.5 655.0,487.8 659.3,491.7 665.2,504.1 669.2,503.5 674.1,497.0 678.6,491.7 682.9,495.6 687.8,504.5 693.2,510.4 697.7,513.9 702.6,504.5 707.5,494.3 712.4,491.1 716.4,496.6 721.3,498.2 726.2,492.3 731.1,487.2 736.0,494.7 740.0,500.2 744.9,516.3 753.8,533.5 758.7,529.0 763.6,529.0 768.5,551.6 773.0,575.2 778.3,586.0 787.2,544.2" fill="none" stroke="#2962ff" stroke-width="1" stroke-linejoin="round"/>
</g>
<text x="15" y="38" font-size="10.2" fill="#131722" textLength="140.6" lengthAdjust="spacingAndGlyphs" >SUI / U. S. Dollar · 1D · KRAKEN</text>
<text x="162.7" y="38" font-size="10.2" fill="#131722" textLength="7" lengthAdjust="spacingAndGlyphs" >O</text>
<text x="169.7" y="38" font-size="10.2" fill="#2962ff" textLength="28.6" lengthAdjust="spacingAndGlyphs" >4.1616</text>
<text x="204.8" y="38" font-size="10.2" fill="#131722" textLength="5.9" lengthAdjust="spacingAndGlyphs" >H</text>
<text x="210.6" y="38" font-size="10.2" fill="#2962ff" textLength="29.6" lengthAdjust="spacingAndGlyphs" >4.2592</text>
<text x="247.5" y="38" font-size="10.2" fill="#131722" textLength="5.1" lengthAdjust="spacingAndGlyphs" >L</text>
<text x="252.5" y="38" font-size="10.2" fill="#2962ff" textLength="29.1" lengthAdjust="spacingAndGlyphs" >4.1192</text>
<text x="287.6" y="38" font-size="10.2" fill="#131722" textLength="5.6" lengthAdjust="spacingAndGlyphs" >C</text>
<text x="293.2" y="38" font-size="10.2" fill="#2962ff" textLength="29.6" lengthAdjust="spacingAndGlyphs" >4.2386</text>
<text x="329.5" y="38" font-size="10.2" fill="#2962ff" textLength="75.2" lengthAdjust="spacingAndGlyphs" >+0.0808 (+1.94%)</text>
<text x="15" y="487.3" font-size="10.2" fill="#131722" textLength="131" lengthAdjust="spacingAndGlyphs" >Stoch RSI (3, 3, 14, 14, close)</text>
<text x="152.4" y="487.3" font-size="10.2" fill="#2962ff" textLength="24.2" lengthAdjust="spacingAndGlyphs" >46.82</text>
<text x="183" y="487.3" font-size="10.2" fill="#ff6d00" textLength="23.7" lengthAdjust="spacingAndGlyphs" >27.86</text>
<text x="969" y="82.6" font-size="10" fill="#131722">5.0000</text>
<text x="969" y="112.1" font-size="10" fill="#131722">4.6000</text>
<text x="969" y="179.7" font-size="10" fill="#131722">3.8000</text>
<text x="969" y="219.1" font-size="10" fill="#131722">3.4000</text>
<text x="969" y="251.8" font-size="10" fill="#131722">3.1000</text>
<text x="969" y="287.8" font-size="10" fill="#131722">2.8000</text>
<text x="969" y="314.0" font-size="10" fill="#131722">2.6000</text>
<text x="969" y="342.4" font-size="10" fill="#131722">2.4000</text>
<text x="969" y="373.1" font-size="10" fill="#131722">2.2000</text>
<text x="969" y="398.1" font-size="10" fill="#131722">2.0500</text>
<text x="969" y="425.0" font-size="10" fill="#131722">1.9000</text>
<text x="969" y="452.1" font-size="10" fill="#131722">1.7600</text>
<rect x="964.6" y="26" width="47.7" height="21" rx="4" fill="#fff" stroke="#e6e8ec"/>
<text x="972" y="40.8" font-size="10.5" fill="#131722" textLength="17.3" lengthAdjust="spacingAndGlyphs">USD</text>
<line x1="962" x2="1002" y1="51" y2="51" stroke="#2962ff" stroke-width="1"/>
<rect x="935" y="117" width="67" height="12.7" fill="#e3effd"/>
<text x="938" y="126.8" font-size="10" fill="#131722">High</text>
<text x="969" y="126.8" font-size="10" fill="#131722">4.3400</text>
<rect x="923" y="130.6" width="38" height="14" rx="2" fill="#2962ff"/>
<text x="925.5" y="141.3" font-size="10" font-weight="bold" fill="#fff" textLength="33" lengthAdjust="spacingAndGlyphs">SUIUSD</text>
<rect x="961.9" y="130.6" width="49.7" height="25" fill="#2962ff"/>
<text x="969" y="141.3" font-size="10" fill="#fff" font-weight="bold">4.2386</text>
<text x="969" y="153" font-size="10" fill="#fff">12:35:50</text>
<rect x="961.7" y="287.6" width="40.5" height="13.4" fill="#2962ff"/>
<text x="969" y="298" font-size="10" fill="#fff" font-weight="bold">2.7264</text>
<rect x="936.3" y="451.6" width="66" height="12.9" fill="#e3effd"/>
<text x="939.5" y="461.5" font-size="10" fill="#131722">Low</text>
<text x="969" y="461.5" font-size="10" fill="#131722">1.7165</text>
<text x="969" y="488.6" font-size="10" fill="#131722">100.00</text>
<text x="969" y="516.6" font-size="10" fill="#131722">75.00</text>
<text x="969" y="600.6" font-size="10" fill="#131722">0.00</text>
<rect x="962" y="537.8" width="35" height="13.4" rx="2" fill="#2962ff"/>
<text x="969" y="548.2" font-size="10" fill="#fff" font-weight="bold">46.82</text>
<rect x="962" y="559.7" width="35" height="13.4" rx="2" fill="#ff6d00"/>
<text x="969" y="570" font-size="10" fill="#fff" font-weight="bold">27.86</text>
<text x="88.4" y="623.5" font-size="10" fill="#131722" text-anchor="middle">Mar</text>
<text x="234.9" y="623.5" font-size="10" fill="#131722" text-anchor="middle">Apr</text>
<text x="376.7" y="623.5" font-size="10" fill="#131722" text-anchor="middle">May</text>
<text x="523.2" y="623.5" font-size="10" fill="#131722" text-anchor="middle">Jun</text>
<text x="665.0" y="623.5" font-size="10" fill="#131722" text-anchor="middle">Jul</text>
<text x="811.5" y="623.5" font-size="10" fill="#131722" text-anchor="middle">Aug</text>
<text x="958.0" y="623.5" font-size="10" fill="#131722" text-anchor="middle">Sep</text>
<rect x="959" y="609" width="56" height="22" fill="#fff"/>
<path d="M8,642.5 h7 v7.5 h-3 v-4.6 h-4z" fill="#131722"/>
<circle cx="17.2" cy="644" r="1.5" fill="#131722"/>
<path d="M19.5,642.5 h4.7 l-3.6,7.5 h-3.3z" fill="#131722"/>
<text x="27.8" y="651" font-size="11.5" fill="#2a2e39" textLength="58" lengthAdjust="spacingAndGlyphs">TradingView</text>
</svg></body></html>
